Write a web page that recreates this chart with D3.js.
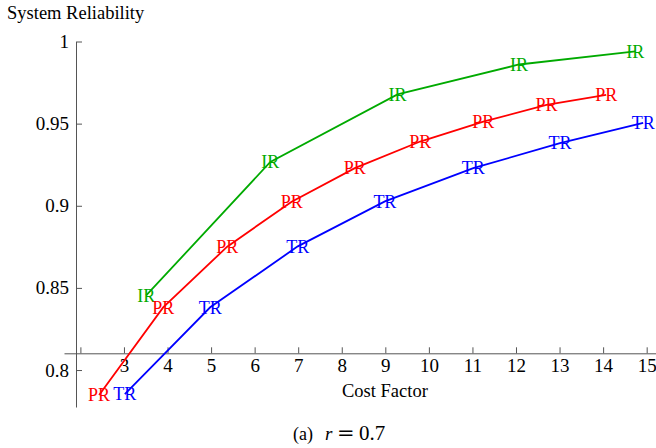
<!DOCTYPE html>
<html>
<head>
<meta charset="utf-8">
<script src="https://cdn.jsdelivr.net/npm/d3@7"></script>
<style>
  html, body { margin: 0; padding: 0; background: #fff; }
  svg { display: block; font-family: "Liberation Serif", "DejaVu Serif", serif; }
</style>
</head>
<body>
<svg id="chart" width="656" height="448"></svg>
<script>
// ---- data ----
const irX = [3.51, 6.36, 9.28, 12.07, 14.74];
const irY = [0.8454, 0.9267, 0.9678, 0.986, 0.994];
const prX = [2.43, 3.90, 5.37, 6.85, 8.30, 9.80, 11.25, 12.70, 14.07];
const prY = [0.7848, 0.8381, 0.8751, 0.9025, 0.9229, 0.9391, 0.9512, 0.9614, 0.9675];
const trX = [3.02, 4.98, 6.99, 8.99, 11.02, 13.01, 14.92];
const trY = [0.7854, 0.8382, 0.8753, 0.9027, 0.9229, 0.9381, 0.9505];
const xTicks = [2, 3, 4, 5, 6, 7, 8, 9, 10, 11, 12, 13, 14, 15];
const xTickLabels = ["", "3", "4", "5", "6", "7", "8", "9", "10", "11", "12", "13", "14", "15"];
const yTicks = [0.8, 0.85, 0.9, 0.95, 1];
const yTickLabels = ["0.8", "0.85", "0.9", "0.95", "1"];
const seriesNames = ["IR", "PR", "TR"];
const seriesColors = ["#00aa00", "#ff0000", "#0000ff"];

const series = [
  { name: seriesNames[0], color: seriesColors[0], xs: irX, ys: irY },
  { name: seriesNames[1], color: seriesColors[1], xs: prX, ys: prY },
  { name: seriesNames[2], color: seriesColors[2], xs: trX, ys: trY }
];

const svg = d3.select("#chart");
const x = d3.scaleLinear().domain([1.6235, 15.214]).range([64, 656]);
const y = d3.scaleLinear().domain([0.7775, 1]).range([407, 41.5]);
const axisColor = "#555";

// y axis
const yAxisX = 76;
const yAxis = d3.axisLeft(y)
  .tickValues(yTicks)
  .tickFormat((d, i) => yTickLabels[i])
  .tickSizeInner(-6).tickSizeOuter(0).tickPadding(7);
const gy = svg.append("g").attr("transform", `translate(${yAxisX},0)`).call(yAxis);
gy.select(".domain").attr("stroke", axisColor);
gy.selectAll(".tick line").attr("stroke", axisColor);
gy.selectAll(".tick text").attr("fill", "#000").attr("font-size", 19)
  .attr("font-family", "Liberation Serif");

// x axis
const xAxisY = 353.3;
const xAxis = d3.axisBottom(x)
  .tickValues(xTicks)
  .tickFormat((d, i) => xTickLabels[i])
  .tickSizeInner(-6).tickSizeOuter(0).tickPadding(5);
const gx = svg.append("g").attr("transform", `translate(0,${xAxisY})`).call(xAxis);
gx.select(".domain").attr("stroke", axisColor);
gx.selectAll(".tick line").attr("stroke", axisColor);
gx.selectAll(".tick text").attr("fill", "#000").attr("font-size", 19)
  .attr("font-family", "Liberation Serif");

// lines
const line = d3.line().x(d => x(d[0])).y(d => y(d[1]));
series.forEach(s => {
  const pts = s.xs.map((v, i) => [v, s.ys[i]]);
  svg.append("path").datum(pts)
    .attr("d", line)
    .attr("fill", "none")
    .attr("stroke", s.color)
    .attr("stroke-width", 1.8);
});
// point labels
series.forEach(s => {
  const pts = s.xs.map((v, i) => [v, s.ys[i]]);
  svg.append("g").selectAll("text").data(pts).join("text")
    .attr("x", d => x(d[0]))
    .attr("y", d => y(d[1]))
    .attr("dy", "0.35em")
    .attr("text-anchor", "middle")
    .attr("font-size", 18)
    .attr("fill", s.color)
    .text(s.name);
});

// titles
svg.append("text").attr("x", 7).attr("y", 19).attr("font-size", 18.5).text("System Reliability");
svg.append("text").attr("x", 342).attr("y", 397).attr("font-size", 18.5).text("Cost Factor");
const cap = svg.append("g").attr("font-size", 19);
cap.append("text").attr("x", 293).attr("y", 440).attr("font-size", 18).text("(a)");
cap.append("text").attr("x", 325).attr("y", 440).attr("font-style", "italic").text("r");
cap.append("text").attr("x", 337).attr("y", 440).attr("font-size", 21)
  .attr("font-family", "DejaVu Serif").text("=");
cap.append("text").attr("x", 359).attr("y", 440).attr("font-size", 21).text("0.7");
</script>
</body>
</html>
